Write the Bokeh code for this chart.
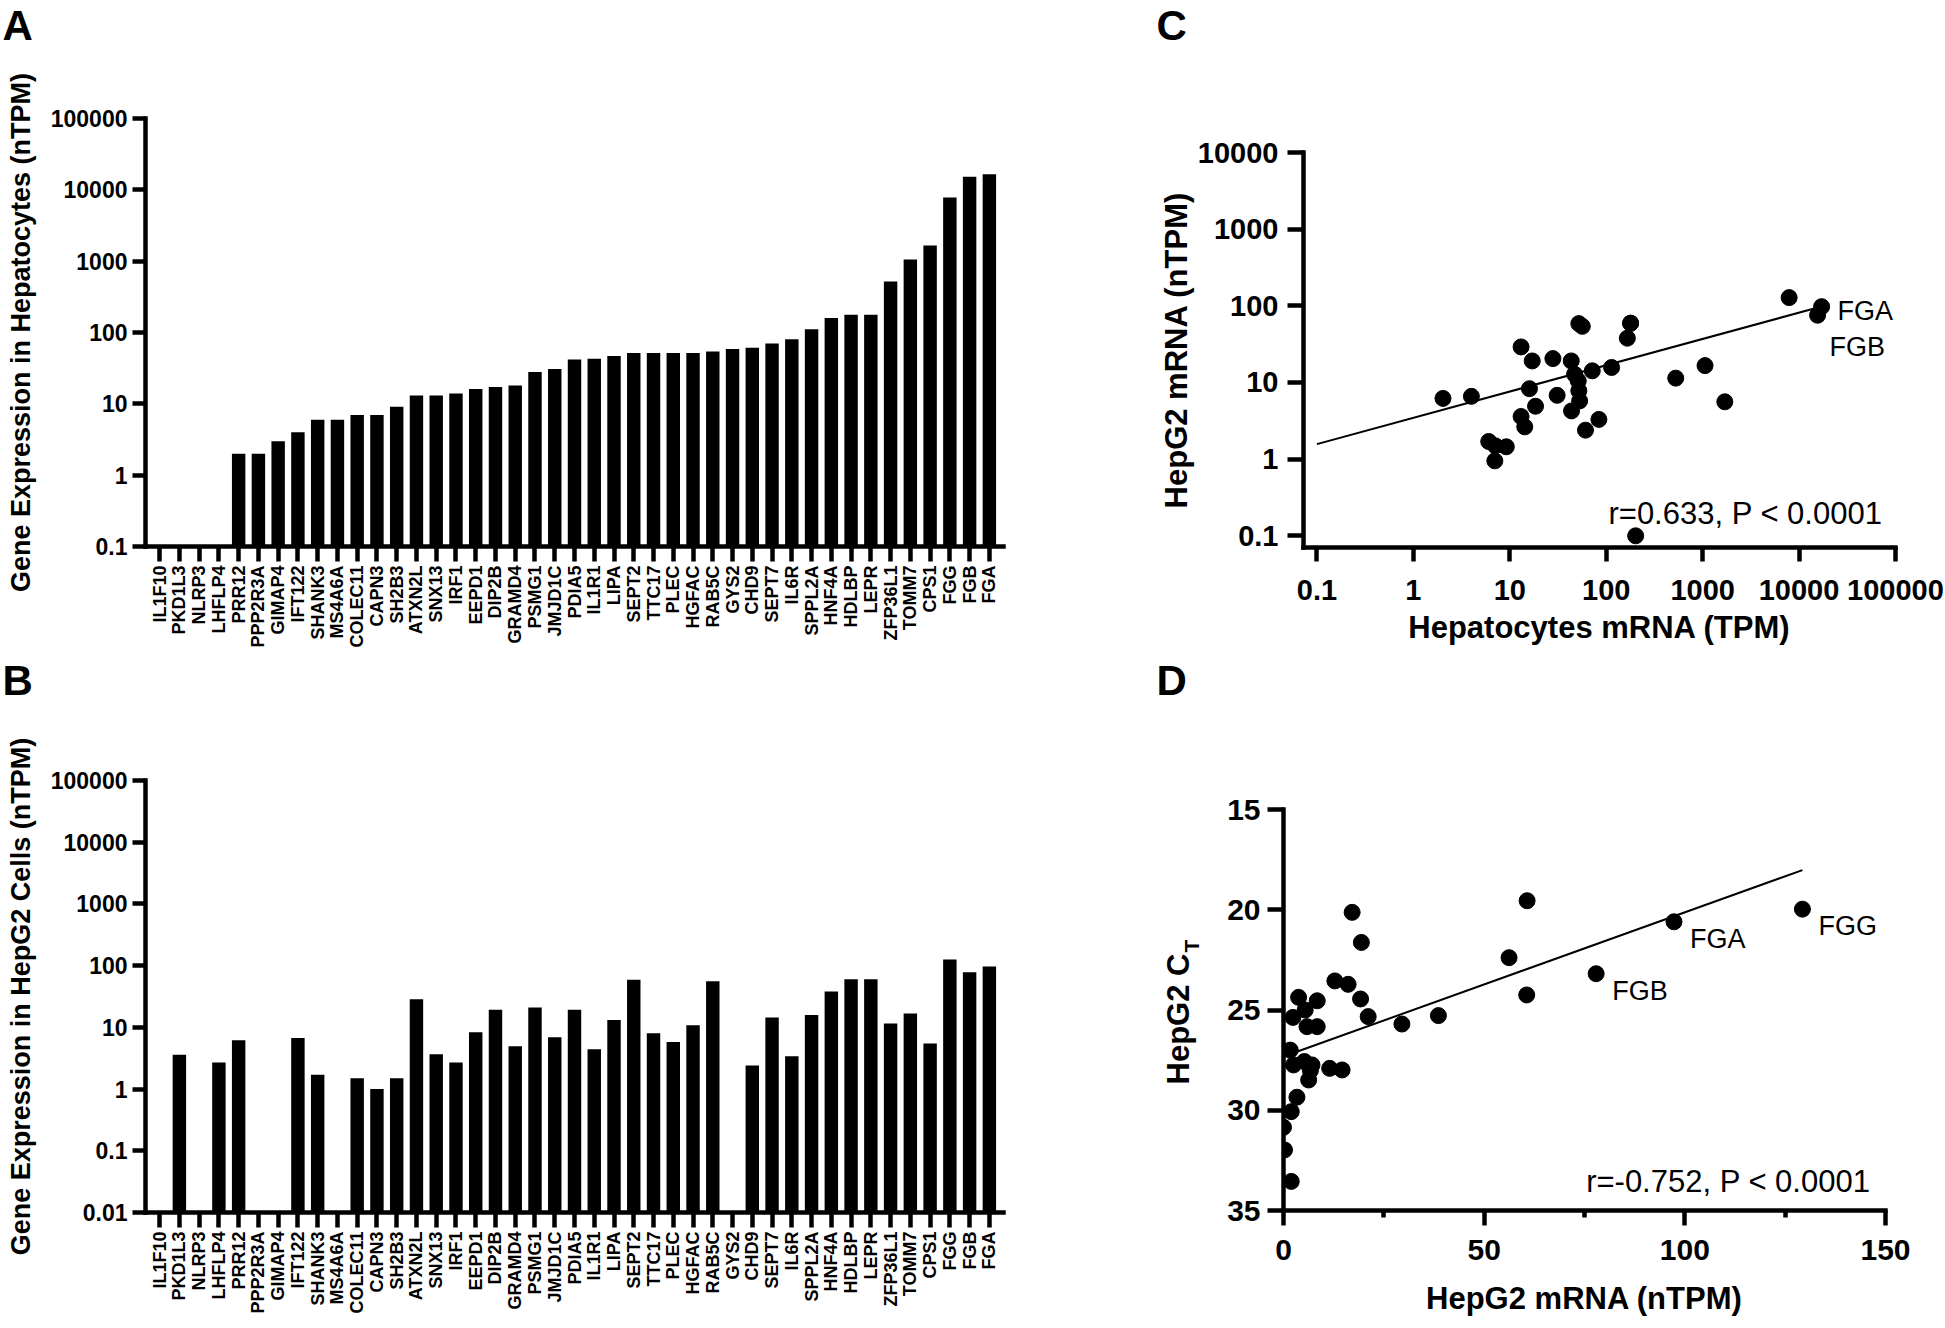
import math
from bokeh.plotting import figure
from bokeh.layouts import row, column
from bokeh.models import Range1d, FactorRange, FixedTicker, Label, ColumnDataSource
from bokeh.embed import file_html
from bokeh.resources import INLINE
from bokeh.core.properties import value

# ---------------- data ----------------
genes = ["IL1F10", "PKD1L3", "NLRP3", "LHFLP4", "PRR12", "PPP2R3A", "GIMAP4", "IFT122",
         "SHANK3", "MS4A6A", "COLEC11", "CAPN3", "SH2B3", "ATXN2L", "SNX13", "IRF1",
         "EEPD1", "DIP2B", "GRAMD4", "PSMG1", "JMJD1C", "PDIA5", "IL1R1", "LIPA", "SEPT2",
         "TTC17", "PLEC", "HGFAC", "RAB5C", "GYS2", "CHD9", "SEPT7", "IL6R", "SPPL2A",
         "HNF4A", "HDLBP", "LEPR", "ZFP36L1", "TOMM7", "CPS1", "FGG", "FGB", "FGA"]

hepatocyte_ntpm = [0, 0, 0, 0, 2.0, 2.0, 3.0, 4.0, 6.0, 6.0, 7.0, 7.0, 9.1, 13.1, 13.1, 14.0,
                   16.1, 17.2, 18.0, 27.9, 30.7, 41.8, 43.0, 46.7, 51.5, 51.5, 51.5, 51.5, 54.0,
                   58.5, 61.0, 70.0, 80.6, 111.0, 160.0, 177.0, 177.0, 518.0, 1056.0, 1652.0,
                   7800.0, 15200.0, 16600.0]

hepg2_ntpm = [0, 3.6, 0, 2.7, 6.2, 0, 0, 6.7, 1.7, 0, 1.5, 1.0, 1.5, 28.6, 3.65, 2.7,
              8.3, 19.2, 4.95, 20.9, 6.9, 19.3, 4.4, 13.1, 59.0, 8.0, 5.8, 10.8, 56.0,
              0, 2.4, 14.5, 3.4, 15.9, 38.0, 60.0, 60.0, 11.6, 16.7, 5.5, 126.0, 78.0, 97.0]

a_ticks = [0.1, 1, 10, 100, 1000, 10000, 100000]
a_tick_labels = ["0.1", "1", "10", "100", "1000", "10000", "100000"]
b_ticks = [0.01, 0.1, 1, 10, 100, 1000, 10000, 100000]
b_tick_labels = ["0.01", "0.1", "1", "10", "100", "1000", "10000", "100000"]

# panel C: hepatocytes TPM vs HepG2 nTPM
c_gene = ["PRR12", "IFT122", "SHANK3", "COLEC11", "CAPN3", "SH2B3", "ATXN2L", "SNX13",
          "IRF1", "EEPD1", "DIP2B", "GRAMD4", "PSMG1", "JMJD1C", "PDIA5", "IL1R1", "LIPA",
          "SEPT2", "TTC17", "PLEC", "HGFAC", "RAB5C", "CHD9", "SEPT7", "IL6R", "SPPL2A",
          "HNF4A", "HDLBP", "LEPR", "ZFP36L1", "TOMM7", "CPS1", "FGG", "FGB", "FGA", "other"]
c_hepatocytes_tpm = [2.03, 4.0, 6.05, 7.1, 7.0, 9.2, 13.1, 13.1, 14.3, 16.0, 17.1, 18.5,
                     28.0, 31.0, 43.4, 43.7, 47.0, 52.0, 52.0, 53.0, 51.3, 56.5, 61.0, 71.7,
                     84.0, 113.8, 165.6, 179.0, 179.0, 526.0, 1059.0, 1698.0, 7890.0,
                     15560.0, 17130.0, 202.0]
c_hepg2_ntpm = [6.2, 6.6, 1.7, 1.49, 0.95, 1.45, 29.1, 3.6, 2.64, 8.3, 19.1, 4.9,
                20.5, 6.8, 19.1, 4.26, 12.8, 58.6, 7.8, 5.75, 10.5, 54.0, 2.39, 14.2,
                3.3, 15.7, 37.8, 59.3, 59.3, 11.4, 16.6, 5.6, 128.0, 75.4, 97.6, 0.1]
c_labelled = ["FGA", "FGB"]
c_fit_slope = 0.343        # log10-log10 fit
c_fit_intercept = 0.539
c_x_ticks = [0.1, 1, 10, 100, 1000, 10000, 100000]
c_x_tick_labels = ["0.1", "1", "10", "100", "1000", "10000", "100000"]
c_y_ticks = [0.1, 1, 10, 100, 1000, 10000]
c_y_tick_labels = ["0.1", "1", "10", "100", "1000", "10000"]
c_stat = "r=0.633, P < 0.0001"

# panel D: HepG2 nTPM vs HepG2 CT
d_hepg2_ntpm = [17.1, 19.4, 60.7, 56.2, 77.9, 60.6, 12.8, 16.1, 19.2, 21.1, 29.5, 38.6,
                3.76, 5.4, 8.4, 2.35, 5.85, 8.4, 1.68, 2.5, 5.2, 7.1, 6.7, 6.27, 11.5,
                14.6, 3.35, 1.93, 0.0, 0.25, 1.93, 97.3, 129.3]
d_hepg2_ct = [20.13, 21.63, 19.55, 22.39, 23.19, 24.25, 23.55, 23.72, 24.45, 25.33, 25.70,
              25.28, 24.37, 25.0, 24.54, 25.37, 25.83, 25.83, 27.0, 27.74, 27.57, 27.74,
              28.02, 28.49, 27.91, 27.99, 29.35, 30.07, 30.85, 31.98, 33.55, 20.6, 19.97]
d_label = ["", "", "", "", "FGB", "", "", "", "", "", "", "", "", "", "", "", "", "",
           "", "", "", "", "", "", "", "", "", "", "", "", "", "FGA", "FGG"]
d_fit_slope = -0.0719
d_fit_intercept = 27.32
d_x_ticks = [0, 50, 100, 150]
d_x_minor_ticks = [25, 75, 125]
d_y_ticks = [15, 20, 25, 30, 35]
d_stat = "r=-0.752, P < 0.0001"

# ---------------- styling helpers ----------------
FONT = "Liberation Sans"


def style_axis(ax, size, tick_out, standoff, lw=4.5):
    ax.axis_line_width = lw
    ax.axis_line_color = "black"
    ax.axis_line_cap = "square"
    ax.major_tick_line_width = lw
    ax.major_tick_line_color = "black"
    ax.major_tick_in = 0
    ax.major_tick_out = tick_out
    ax.minor_tick_line_color = None
    ax.major_label_text_font = FONT
    ax.major_label_text_font_style = "bold"
    ax.major_label_text_font_size = size
    ax.major_label_text_color = "black"
    ax.major_label_standoff = standoff
    ax.axis_label_text_font = FONT
    ax.axis_label_text_font_style = "bold"
    ax.axis_label_text_color = "black"


def base_fig(**kw):
    p = figure(output_backend="svg", toolbar_location=None, frame_align=False,
               title=None, **kw)
    p.grid.visible = False
    p.outline_line_color = None
    p.background_fill_color = "white"
    p.border_fill_color = "white"
    return p


def text_strip(width, height, items):
    s = base_fig(width=width, height=height, x_range=Range1d(0, 1), y_range=Range1d(0, 1),
                 x_axis_location=None, y_axis_location=None, min_border=0)
    for it in items:
        s.add_layout(Label(x_units="screen", y_units="screen", text_font=FONT,
                           text_font_style="bold", text_align="left",
                           text_baseline="alphabetic", text_color="black", **it))
    return s


def bar_panel(values, ticks, tick_labels, ymin, ylabel, height, top, bottom):
    p = base_fig(width=1130, height=height,
                 x_range=FactorRange(*genes, range_padding=0.01),
                 y_range=Range1d(ymin, 100000), y_axis_type="log",
                 min_border_left=145, min_border_right=127,
                 min_border_top=top, min_border_bottom=bottom)
    tops = [v if v > 0 else float("nan") for v in values]
    src = ColumnDataSource(dict(gene=genes, top=tops))
    p.vbar(x="gene", top="top", bottom=ymin, width=0.68, source=src,
           fill_color="black", line_color=None)
    style_axis(p.yaxis[0], "23px", 13, 5)
    p.yaxis.ticker = FixedTicker(ticks=ticks)
    p.yaxis.major_label_overrides = {t: l for t, l in zip(ticks, tick_labels)}
    p.yaxis.axis_label = ylabel
    p.yaxis.axis_label_text_font_size = "27px"
    p.yaxis.axis_label_standoff = 12
    style_axis(p.xaxis[0], "18px", 15, 4)
    p.xaxis.major_label_orientation = math.pi / 2
    return p


LETTER = "42px"
stripA = text_strip(1130, 50, [dict(text="A", x=2, y=25, text_font_size=LETTER)])
pA = bar_panel(hepatocyte_ntpm, a_ticks, a_tick_labels, 0.1,
               "Gene Expression in Hepatocytes (nTPM)", 605, 68, 109)
stripB = text_strip(1130, 50, [dict(text="B", x=2, y=25, text_font_size=LETTER)])
pB = bar_panel(hepg2_ntpm, b_ticks, b_tick_labels, 0.01,
               "Gene Expression in HepG2 Cells (nTPM)", 622, 75, 115)

# ---------------- panel C ----------------
pC = base_fig(width=814, height=605, x_axis_type="log", y_axis_type="log",
              x_range=Range1d(0.0726, 100000), y_range=Range1d(0.0704, 10000),
              min_border_left=173, min_border_right=49, min_border_top=102,
              min_border_bottom=108)
srcC = ColumnDataSource(dict(x=c_hepatocytes_tpm, y=c_hepg2_ntpm))
cfx = [c_x_ticks[0], max(c_hepatocytes_tpm)]
cfy = [10 ** (c_fit_intercept + c_fit_slope * math.log10(v)) for v in cfx]
pC.line(cfx, cfy, line_color="black", line_width=2)
pC.scatter("x", "y", source=srcC, size=16, fill_color="black", line_color="black")
c_off = {"FGA": (16, 4), "FGB": (12, 32)}
lab_src = ColumnDataSource(dict(
    x=[c_hepatocytes_tpm[c_gene.index(g)] for g in c_labelled],
    y=[c_hepg2_ntpm[c_gene.index(g)] for g in c_labelled],
    text=c_labelled,
    xo=[c_off[g][0] for g in c_labelled],
    yo=[c_off[g][1] for g in c_labelled]))
pC.text("x", "y", text="text", x_offset="xo", y_offset="yo", source=lab_src,
        text_font=value(FONT), text_font_size="27px", text_baseline="middle",
        text_align="left", text_color="black")
style_axis(pC.xaxis[0], "29px", 14, 18)
style_axis(pC.yaxis[0], "29px", 16, 9)
pC.xaxis.ticker = FixedTicker(ticks=c_x_ticks)
pC.xaxis.major_label_overrides = {t: l for t, l in zip(c_x_ticks, c_x_tick_labels)}
pC.yaxis.ticker = FixedTicker(ticks=c_y_ticks)
pC.yaxis.major_label_overrides = {t: l for t, l in zip(c_y_ticks, c_y_tick_labels)}
pC.xaxis.axis_label = "Hepatocytes mRNA (TPM)"
pC.yaxis.axis_label = "HepG2 mRNA (nTPM)"
pC.xaxis.axis_label_text_font_size = "31px"
pC.yaxis.axis_label_text_font_size = "31px"
pC.xaxis.axis_label_standoff = 7
pC.yaxis.axis_label_standoff = 1
pC.add_layout(Label(x=579, y=34, x_units="screen", y_units="screen", text=c_stat,
                    text_font=FONT, text_font_size="31px", text_align="right",
                    text_baseline="alphabetic", text_color="black"))
stripC = text_strip(814, 50, [dict(text="C", x=26, y=25, text_font_size=LETTER)])

# ---------------- panel D ----------------
pD = base_fig(width=739, height=622, x_range=Range1d(0, 150), y_range=Range1d(35, 15),
              min_border_left=78, min_border_right=59, min_border_top=104,
              min_border_bottom=117)
srcD = ColumnDataSource(dict(x=d_hepg2_ntpm, y=d_hepg2_ct, name=d_label))
dfx = [min(d_hepg2_ntpm), max(d_hepg2_ntpm)]
dfy = [d_fit_intercept + d_fit_slope * v for v in dfx]
pD.line(dfx, dfy, line_color="black", line_width=2)
pD.scatter("x", "y", source=srcD, size=16, fill_color="black", line_color="black")
pD.text("x", "y", text="name", x_offset=16, y_offset=17, source=srcD,
        text_font=value(FONT), text_font_size="27px", text_baseline="middle",
        text_align="left", text_color="black")
style_axis(pD.xaxis[0], "30px", 15, 14)
style_axis(pD.yaxis[0], "30px", 16, 7)
pD.xaxis.ticker = FixedTicker(ticks=d_x_ticks, minor_ticks=d_x_minor_ticks)
pD.xaxis.minor_tick_line_color = "black"
pD.xaxis.minor_tick_line_width = 4.5
pD.xaxis.minor_tick_in = 0
pD.xaxis.minor_tick_out = 7
pD.yaxis.ticker = FixedTicker(ticks=d_y_ticks)
pD.xaxis.axis_label = "HepG2 mRNA (nTPM)"
pD.xaxis.axis_label_text_font_size = "31px"
pD.xaxis.axis_label_standoff = 18
pD.add_layout(Label(x=587, y=29, x_units="screen", y_units="screen", text=d_stat,
                    text_font=FONT, text_font_size="31px", text_align="right",
                    text_baseline="alphabetic", text_color="black"))
stripD = text_strip(814, 50, [dict(text="D", x=26, y=25, text_font_size=LETTER)])
titleD = text_strip(75, 622, [
    dict(text="HepG2 C", x=48, y=243, angle=math.pi / 2, text_font_size="31px"),
    dict(text="T", x=61, y=375, angle=math.pi / 2, text_font_size="21px"),
])

layout = row(column(stripA, pA, stripB, pB),
             column(stripC, pC, stripD, row(titleD, pD)))
open("out.html", "w").write(file_html(layout, INLINE))
